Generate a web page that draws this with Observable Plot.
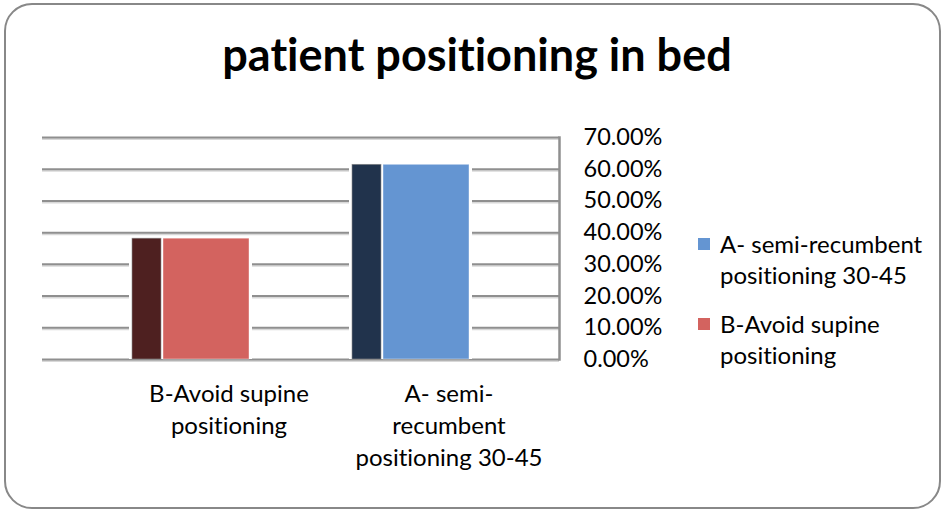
<!DOCTYPE html>
<html>
<head>
<meta charset="utf-8">
<script src="https://cdn.jsdelivr.net/npm/d3@7"></script>
<script src="https://cdn.jsdelivr.net/npm/@observablehq/plot@0.6"></script>
<style>
  html, body { margin: 0; padding: 0; background: #fff; }
  #wrap { position: relative; width: 944px; height: 510px; overflow: hidden; font-family: Lato, "Open Sans", sans-serif; color: #000; font-variant-ligatures: none; }
  #frame { position: absolute; left: 4px; top: 3px; width: 937px; height: 506px; border: 2px solid #888; border-radius: 28px; box-sizing: border-box; }
  #title { position: absolute; left: 0; width: 954px; top: 26px; text-align: center; font-size: 45px; font-weight: bold; line-height: 56px; }
  #legend { position: absolute; left: 698px; top: 228px; font-size: 24px; line-height: 31px; }
  .item { position: relative; padding-left: 22px; margin-bottom: 18px; width: 240px; }
  .sw { position: absolute; left: 0; top: 10px; width: 12px; height: 12px; }
  #chart { position: absolute; left: 0; top: 0; }
  #chart svg text { font-variant-ligatures: none; }
</style>
</head>
<body>
<div id="wrap">
  <div id="frame"></div>
  <div id="title"></div>
  <div id="chart"></div>
  <div id="legend"></div>
</div>
<script>
const title = "patient positioning in bed";
const categories = ["B-Avoid supine positioning", "A- semi-recumbent positioning 30-45"];
const categoryLabels = ["B-Avoid supine\npositioning", "A- semi-\nrecumbent\npositioning 30-45"];
const legendLabels = ["B-Avoid supine positioning", "A- semi-recumbent positioning 30-45"];
const values = [0.381, 0.614];
const frontColors = ["#D3635F", "#6495D2"];
const sideColors = ["#4E2020", "#21334C"];
const legendOrder = [1, 0];
const yTicks = [0, 0.1, 0.2, 0.3, 0.4, 0.5, 0.6, 0.7];

const data = categories.map((c, i) => ({cat: c, value: values[i], front: frontColors[i], side: sideColors[i]}));
const labelOf = new Map(categories.map((c, i) => [c, categoryLabels[i]]));

document.getElementById("title").textContent = title;

const plot = Plot.plot({
  width: 944,
  height: 510,
  marginLeft: 42,
  marginRight: 385,
  marginTop: 137,
  marginBottom: 151,
  style: {fontFamily: "Lato, 'Open Sans', sans-serif", fontSize: "24px", color: "#000", background: "transparent"},
  x: {domain: categories, paddingInner: 0.47, paddingOuter: 0.405},
  y: {domain: [0, 0.7], ticks: yTicks},
  marks: [
    Plot.ruleY(yTicks, {stroke: "#d8d8d8", strokeWidth: 2, dy: 1.5}),
    Plot.ruleY(yTicks, {stroke: "#8f8f8f", strokeWidth: 2}),
    Plot.frame({anchor: "right", stroke: "#8f8f8f", strokeWidth: 2.5}),
    Plot.barY(data, {x: "cat", y: "value", fill: "white", insetLeft: -3, insetRight: -3}),
    Plot.barY(data, {x: "cat", y: "value", fill: "side", insetRight: 88, stroke: "#8c8c8c", strokeWidth: 0.6}),
    Plot.barY(data, {x: "cat", y: "value", fill: "front", insetLeft: 31, stroke: "white", strokeOpacity: 0.5, strokeWidth: 0.8}),
    Plot.axisY({anchor: "right", ticks: yTicks, tickFormat: d3.format(".2%"), tickSize: 0, tickPadding: 24, fontSize: 23.5, label: null}),
    Plot.axisX({anchor: "bottom", tickSize: 0, tickPadding: 19, dx: 38, fontSize: 24, lineHeight: 1.35, tickFormat: d => labelOf.get(d), label: null})
  ]
});
document.getElementById("chart").appendChild(plot);

const legend = document.getElementById("legend");
for (const i of legendOrder) {
  const it = document.createElement("div");
  it.className = "item";
  const sw = document.createElement("span");
  sw.className = "sw";
  sw.style.background = frontColors[i];
  it.appendChild(sw);
  it.appendChild(document.createTextNode(legendLabels[i]));
  legend.appendChild(it);
}
</script>
</body>
</html>
